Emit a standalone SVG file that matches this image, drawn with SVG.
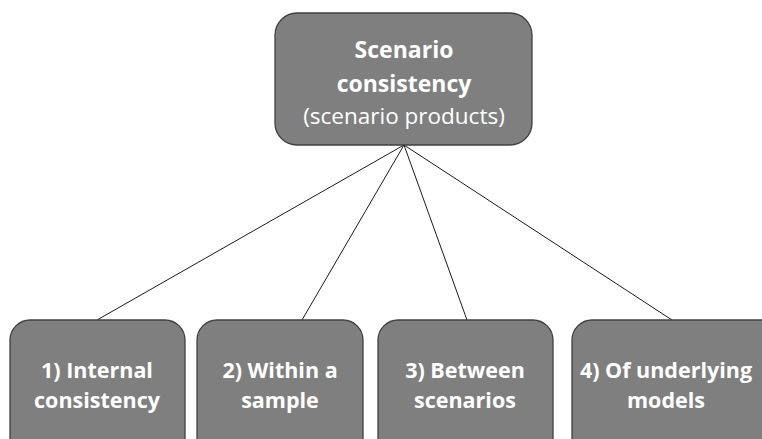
<svg xmlns="http://www.w3.org/2000/svg" width="762" height="439" viewBox="0 0 762 439">
  <style>
    .box { fill: #7f7f7f; stroke: #404040; stroke-width: 1.3; }
    .link { stroke: #1a1a1a; stroke-width: 1; fill: none; }
    text { font-family: "Open Sans", "Noto Sans", sans-serif; fill: #ffffff; text-anchor: middle; }
    .t { font-weight: bold; font-size: 23px; }
    .b { font-weight: bold; font-size: 21.5px; }
    .r { font-size: 22.5px; }
  </style>
  <rect width="762" height="439" fill="#ffffff"/>
  <g id="connectors">
    <line class="link" x1="404" y1="145" x2="97" y2="320"/>
    <line class="link" x1="404" y1="145" x2="302" y2="320"/>
    <line class="link" x1="404" y1="145" x2="467" y2="320"/>
    <line class="link" x1="404" y1="145" x2="672" y2="320"/>
  </g>
  <g id="root">
    <rect class="box" x="275" y="13" width="257" height="132" rx="22"/>
    <text class="t" x="404" y="58">Scenario</text>
    <text class="t" x="404" y="92">consistency</text>
    <text class="r" x="404" y="124">(scenario products)</text>
  </g>
  <g id="internal">
    <rect class="box" x="10" y="320" width="175" height="140" rx="20"/>
    <text class="b" x="97" y="378">1) Internal</text>
    <text class="b" x="97" y="408">consistency</text>
  </g>
  <g id="within">
    <rect class="box" x="197" y="320" width="166" height="140" rx="20"/>
    <text class="b" x="280" y="378">2) Within a</text>
    <text class="b" x="280" y="408">sample</text>
  </g>
  <g id="between">
    <rect class="box" x="378" y="320" width="175" height="140" rx="20"/>
    <text class="b" x="465" y="378">3) Between</text>
    <text class="b" x="465" y="408">scenarios</text>
  </g>
  <g id="models">
    <rect class="box" x="572" y="320" width="210" height="140" rx="20"/>
    <text class="b" x="666" y="378">4) Of underlying</text>
    <text class="b" x="666" y="408">models</text>
  </g>
</svg>
